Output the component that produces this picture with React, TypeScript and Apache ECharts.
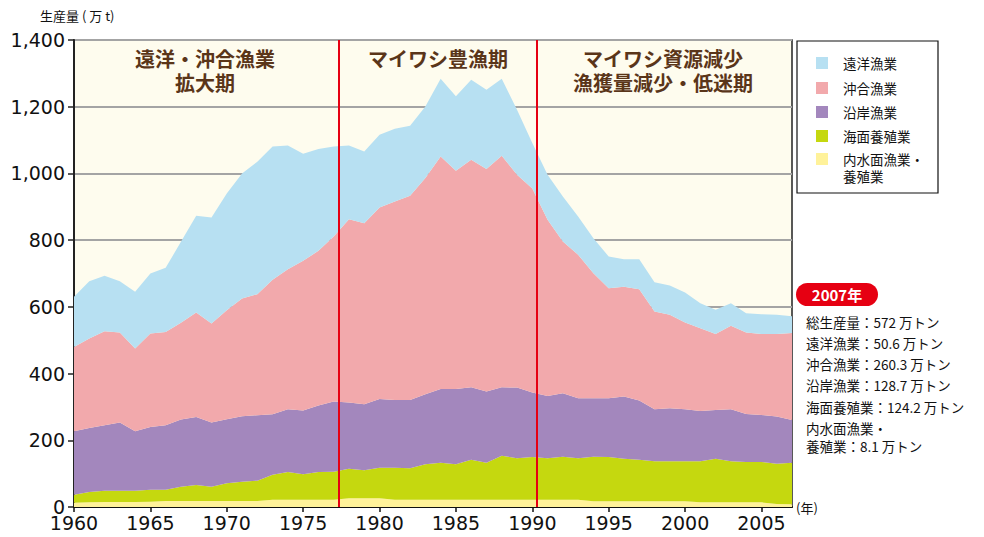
import React, { useEffect, useRef } from 'react';
import * as echarts from 'echarts';

// Years 1960–2007
const years: string[] = [];
for (let y = 1960; y <= 2007; y++) years.push(String(y));

// 内水面漁業・養殖業 (万t)
const inland = [13, 14, 15, 15, 15, 16, 18, 18, 18, 18, 18, 18, 18, 22, 22, 22, 22, 22, 26, 26, 26, 22, 22, 22, 22, 22, 22, 22, 22, 22, 22, 22, 22, 22, 17, 17, 17, 17, 17, 17, 17, 14, 14, 14, 14, 14, 9, 8.1];
// 海面養殖業
const mariculture = [24, 31, 34, 34, 34, 36, 34, 43, 48, 43, 53, 58, 61, 75, 83, 76, 83, 84, 89, 84, 92, 96, 94, 106, 111, 106, 120, 111, 132, 124, 128, 124, 129, 124, 134, 133, 128, 125, 120, 120, 120, 123, 131, 123, 121, 121, 121, 124.2];
// 沿岸漁業
const coastal = [190, 192, 196, 204, 178, 188, 193, 201, 204, 192, 192, 196, 196, 181, 188, 191, 199, 210, 198, 198, 206, 203, 205, 210, 221, 226, 217, 213, 205, 212, 193, 187, 190, 180, 175, 176, 186, 177, 156, 159, 156, 151, 146, 156, 144, 141, 141, 128.7];
// 沖合漁業
const offshore = [253, 268, 282, 270, 248, 280, 280, 290, 313, 297, 327, 353, 363, 403, 420, 449, 464, 495, 550, 543, 574, 595, 612, 648, 697, 654, 682, 667, 694, 638, 612, 528, 455, 430, 375, 330, 329, 334, 293, 280, 260, 248, 228, 250, 244, 243, 248, 260.3];
// 遠洋漁業
const distant = [150, 172, 166, 154, 170, 180, 192, 243, 290, 318, 350, 375, 397, 400, 371, 321, 305, 270, 221, 215, 218, 218, 210, 215, 233, 223, 240, 238, 231, 195, 136, 135, 135, 115, 105, 95, 83, 90, 88, 88, 90, 75, 72, 68, 58, 59, 57, 50.6];

const periodBoundaries = [1977.35, 1990.28];

const seriesNames = ['遠洋漁業', '沖合漁業', '沿岸漁業', '海面養殖業', '内水面漁業・養殖業'];
const legendLines = [['遠洋漁業'], ['沖合漁業'], ['沿岸漁業'], ['海面養殖業'], ['内水面漁業・', '養殖業']];
const colors = ['#B7E0F2', '#F2A9AC', '#A387BD', '#C5D80F', '#FFF29A'];

const periodLabels = [
  { lines: ['遠洋・沖合漁業', '拡大期'], x: 205 },
  { lines: ['マイワシ豊漁期'], x: 438 },
  { lines: ['マイワシ資源減少', '漁獲量減少・低迷期'], x: 663 },
];

const summaryLines = [
  '総生産量：572 万トン',
  '遠洋漁業：50.6 万トン',
  '沖合漁業：260.3 万トン',
  '沿岸漁業：128.7 万トン',
  '海面養殖業：124.2 万トン',
  '内水面漁業・',
  '養殖業：8.1 万トン',
];
const summaryY = [322, 343, 364, 385, 407, 428, 446];

const FONT = '"Noto Sans CJK JP", "Noto Sans", sans-serif';
const NUMFONT = '"DejaVu Sans", "Noto Sans", sans-serif';

export default function App() {
  const ref = useRef<HTMLDivElement>(null);
  useEffect(() => {
    if (!ref.current) return;
    const chart = echarts.init(ref.current, undefined, { renderer: 'svg' });
    const stackOrder = [
      { name: seriesNames[4], data: inland, color: colors[4] },
      { name: seriesNames[3], data: mariculture, color: colors[3] },
      { name: seriesNames[2], data: coastal, color: colors[2] },
      { name: seriesNames[1], data: offshore, color: colors[1] },
      { name: seriesNames[0], data: distant, color: colors[0] },
    ];
    const series: any[] = stackOrder.map((s) => ({
      name: s.name,
      type: 'line',
      stack: 'total',
      xAxisIndex: 0,
      data: s.data,
      symbol: 'none',
      showSymbol: false,
      lineStyle: { width: 0 },
      areaStyle: { color: s.color, opacity: 1 },
      itemStyle: { color: s.color },
    }));
    // helper series on the hidden value axis, only carrying the period boundary lines
    series.push({
      name: 'period',
      type: 'line',
      xAxisIndex: 1,
      data: [[1960, 0]],
      symbol: 'none',
      showSymbol: false,
      lineStyle: { width: 0, opacity: 0 },
      z: 5,
      markLine: {
        silent: true,
        symbol: ['none', 'none'],
        label: { show: false },
        lineStyle: { color: '#E60012', width: 2, type: 'solid' },
        data: periodBoundaries.map((v) => ({ xAxis: v })),
      },
    });

    const graphics: any[] = [];
    graphics.push({
      type: 'text',
      left: 40,
      top: 9,
      style: { text: '生産量 ( 万 t)', fontSize: 13, fontFamily: FONT, fill: '#111' },
    });
    periodLabels.forEach((p) => {
      p.lines.forEach((line, li) => {
        graphics.push({
          type: 'text',
          x: p.x,
          y: 58 + li * 24,
          style: {
            text: line,
            fontSize: 20,
            fontWeight: 'bold',
            fontFamily: FONT,
            fill: '#5A3519',
            align: 'center',
            verticalAlign: 'middle',
          },
          z: 100,
        });
      });
    });
    // legend box
    graphics.push({
      type: 'rect',
      shape: { x: 797, y: 41, width: 141, height: 152 },
      style: { fill: '#fff', stroke: '#111', lineWidth: 1.2 },
    });
    const rowY = [63, 88, 112, 136, 159];
    legendLines.forEach((lines, i) => {
      graphics.push({
        type: 'rect',
        shape: { x: 816, y: rowY[i] - 6, width: 12, height: 12 },
        style: { fill: colors[i] },
      });
      lines.forEach((t, li) => {
        graphics.push({
          type: 'text',
          x: 843,
          y: rowY[i] + li * 17,
          style: {
            text: t,
            fontSize: 13.5,
            fontFamily: FONT,
            fill: '#111',
            verticalAlign: 'middle',
          },
        });
      });
    });
    // 2007 annotation
    graphics.push({
      type: 'rect',
      shape: { x: 796, y: 283, width: 82, height: 23, r: 11.5 },
      style: { fill: '#E60012' },
    });
    graphics.push({
      type: 'text',
      x: 837,
      y: 294.5,
      style: {
        text: '2007年',
        fontSize: 15,
        fontWeight: 'bold',
        fontFamily: FONT,
        fill: '#fff',
        align: 'center',
        verticalAlign: 'middle',
      },
    });
    summaryLines.forEach((t, i) => {
      graphics.push({
        type: 'text',
        x: 806,
        y: summaryY[i],
        style: {
          text: t,
          fontSize: 13.5,
          fontFamily: FONT,
          fill: '#111',
          verticalAlign: 'middle',
        },
      });
    });

    chart.setOption({
      animation: false,
      backgroundColor: '#fff',
      grid: {
        left: 74,
        right: 192,
        top: 40,
        bottom: 30,
        show: true,
        backgroundColor: '#FEFCEE',
        borderColor: '#222',
        borderWidth: 1.5,
      },
      xAxis: [
        {
          type: 'category',
          data: years,
          boundaryGap: false,
          name: '(年)',
          nameLocation: 'end',
          nameGap: 4,
          nameTextStyle: { fontSize: 13, fontFamily: FONT, color: '#111', verticalAlign: 'middle' },
          axisLine: { lineStyle: { color: '#111', width: 2 } },
          axisTick: { show: true, length: 5, interval: 4, lineStyle: { color: '#111', width: 1.5 } },
          axisLabel: {
            fontSize: 19,
            fontFamily: NUMFONT,
            color: '#111',
            margin: 6,
            interval: 4,
          },
          splitLine: { show: false },
        },
        {
          type: 'value',
          min: 1960,
          max: 2007,
          show: false,
        },
      ],
      yAxis: {
        type: 'value',
        min: 0,
        max: 1400,
        interval: 200,
        axisLine: { show: true, lineStyle: { color: '#222', width: 2 } },
        axisTick: { show: true, length: 6, lineStyle: { color: '#222', width: 1.5 } },
        axisLabel: {
          fontSize: 19,
          fontFamily: NUMFONT,
          color: '#111',
          margin: 9,
          formatter: (v: number) => v.toLocaleString('en-US'),
        },
        splitLine: { show: true, lineStyle: { color: '#A4A4A4', width: 2 } },
      },
      series,
      graphic: graphics,
    });
    return () => chart.dispose();
  }, []);
  return <div ref={ref} style={{ width: 984, height: 537, marginLeft: -8, marginTop: -8 }} />;
}
